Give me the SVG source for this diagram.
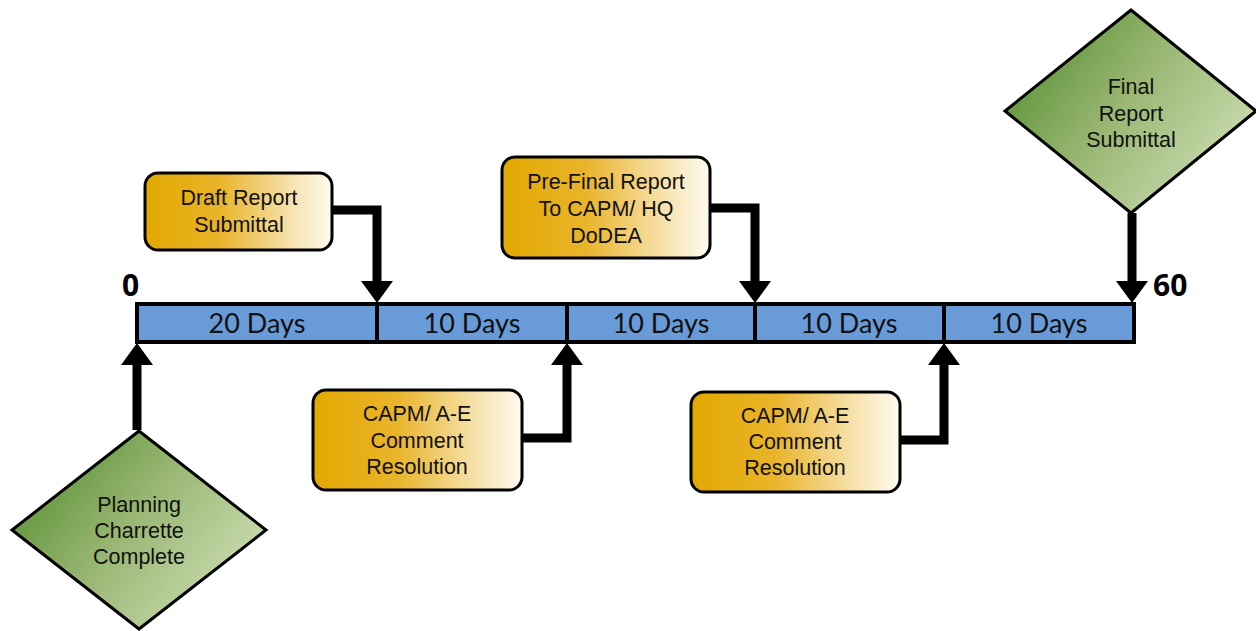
<svg xmlns="http://www.w3.org/2000/svg" width="1256" height="631" viewBox="0 0 1256 631">
  <defs>
    <linearGradient id="gold" x1="0" y1="0" x2="1" y2="0">
      <stop offset="0" stop-color="#E2A800"/>
      <stop offset="0.4" stop-color="#E9B42A"/>
      <stop offset="0.78" stop-color="#F7E2AC"/>
      <stop offset="1" stop-color="#FFFBF0"/>
    </linearGradient>
    <linearGradient id="green" x1="0" y1="0.2" x2="1" y2="0.8">
      <stop offset="0" stop-color="#558E30"/>
      <stop offset="0.45" stop-color="#98B672"/>
      <stop offset="1" stop-color="#D2E2BA"/>
    </linearGradient>
    <marker id="head" viewBox="0 0 22 32" markerWidth="22" markerHeight="32" refX="0" refY="16" orient="auto" markerUnits="userSpaceOnUse">
      <path d="M0,0 L22,16 L0,32 Z" fill="#000"/>
    </marker>
  </defs>
  <style>
    .box { fill: url(#gold); stroke: #000; stroke-width: 3; }
    .dia { fill: url(#green); stroke: #000; stroke-width: 3; }
    .lbl { font-family: "Liberation Sans", Arial, sans-serif; font-size: 21.5px; fill: #111; text-anchor: middle; }
    .days { font-family: Lato, "Open Sans", sans-serif; font-size: 27px; fill: #111; text-anchor: middle; }
    .num { font-family: "Open Sans", "Liberation Sans", sans-serif; font-size: 30px; font-weight: bold; fill: #000; }
    .conn { fill: none; stroke: #000; stroke-width: 9; stroke-linejoin: miter; marker-end: url(#head); }
    .seg { fill: #6A9BD9; stroke: #000; stroke-width: 4; }
  </style>
  <rect width="1256" height="631" fill="#fff"/>

  <!-- timeline bar -->
  <g id="timeline">
    <rect class="seg" x="137" y="304" width="997" height="38"/>
    <line x1="377" y1="304" x2="377" y2="342" stroke="#000" stroke-width="4"/>
    <line x1="567" y1="304" x2="567" y2="342" stroke="#000" stroke-width="4"/>
    <line x1="755" y1="304" x2="755" y2="342" stroke="#000" stroke-width="4"/>
    <line x1="944" y1="304" x2="944" y2="342" stroke="#000" stroke-width="4"/>
    <text class="days" x="257" y="333">20 Days</text>
    <text class="days" x="472" y="333">10 Days</text>
    <text class="days" x="661" y="333">10 Days</text>
    <text class="days" x="849" y="333">10 Days</text>
    <text class="days" x="1039" y="333">10 Days</text>
    <text class="num" x="122" y="296">0</text>
    <text class="num" x="1153" y="296">60</text>
  </g>

  <!-- connectors -->
  <g id="connectors">
    <path class="conn" d="M332,210 H377 V281"/>
    <path class="conn" d="M710,208 H755 V281"/>
    <path class="conn" d="M1132,213 V281"/>
    <path class="conn" d="M137,430 V365"/>
    <path class="conn" d="M522,438 H567 V365"/>
    <path class="conn" d="M900,440 H944 V365"/>
  </g>

  <g id="draft-report">
    <rect class="box" x="145" y="173" width="187" height="77" rx="13"/>
    <text class="lbl" x="239" y="205">Draft Report</text>
    <text class="lbl" x="239" y="232">Submittal</text>
  </g>

  <g id="pre-final-report">
    <rect class="box" x="502" y="157" width="208" height="101" rx="13"/>
    <text class="lbl" x="606" y="189">Pre-Final  Report</text>
    <text class="lbl" x="606" y="216">To CAPM/ HQ</text>
    <text class="lbl" x="606" y="243">DoDEA</text>
  </g>

  <g id="final-report">
    <polygon class="dia" points="1131,10 1256,111 1131,213 1005,111"/>
    <text class="lbl" x="1131" y="94">Final</text>
    <text class="lbl" x="1131" y="121">Report</text>
    <text class="lbl" x="1131" y="147">Submittal</text>
  </g>

  <g id="planning-charrette">
    <polygon class="dia" points="139,431 266,530 139,629 12,530"/>
    <text class="lbl" x="139" y="512">Planning</text>
    <text class="lbl" x="139" y="538">Charrette</text>
    <text class="lbl" x="139" y="564">Complete</text>
  </g>

  <g id="comment-resolution-1">
    <rect class="box" x="313" y="390" width="209" height="100" rx="13"/>
    <text class="lbl" x="417" y="421">CAPM/ A-E</text>
    <text class="lbl" x="417" y="448">Comment</text>
    <text class="lbl" x="417" y="474">Resolution</text>
  </g>

  <g id="comment-resolution-2">
    <rect class="box" x="691" y="392" width="209" height="100" rx="13"/>
    <text class="lbl" x="795" y="423">CAPM/ A-E</text>
    <text class="lbl" x="795" y="449">Comment</text>
    <text class="lbl" x="795" y="475">Resolution</text>
  </g>
</svg>
